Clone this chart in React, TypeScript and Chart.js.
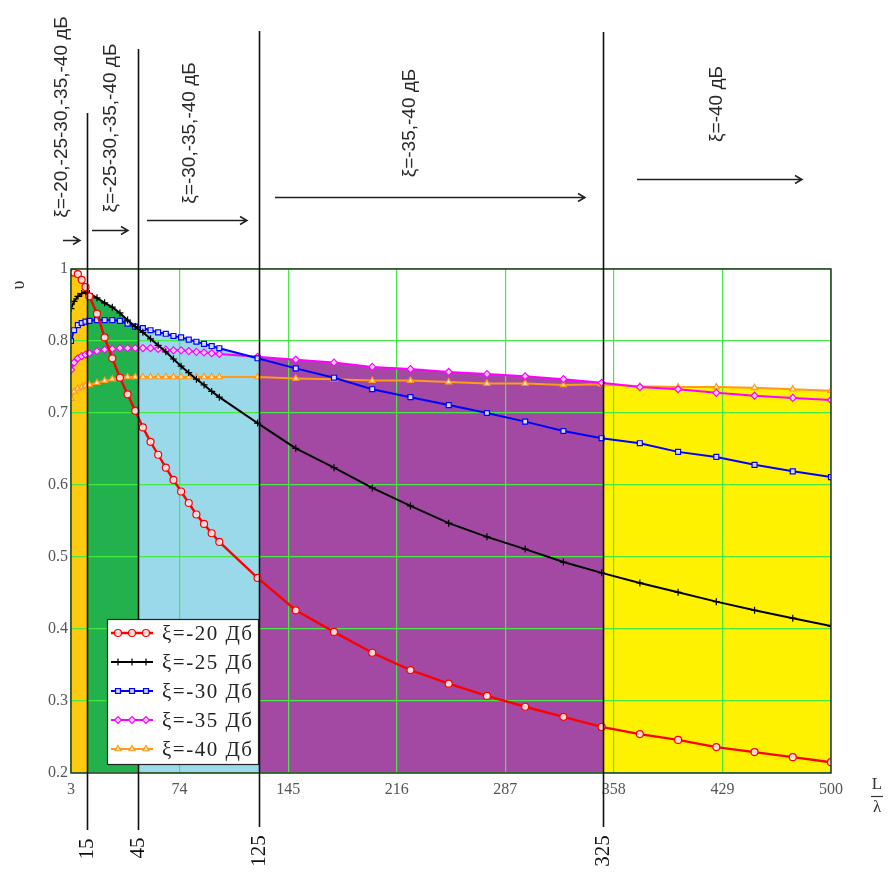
import React, { useEffect, useRef } from "react";
import { Chart, registerables } from "chart.js";
import { drawPoint } from "chart.js/helpers";

Chart.register(...registerables);

// ---------- data ----------
const lengthRatio = [3, 5, 7.5, 10, 12.5, 15, 20, 25, 30, 35, 40, 45, 50, 55, 60, 65, 70, 75, 80, 85, 90, 95, 100,
  125, 150, 175, 200, 225, 250, 275, 300, 325, 350, 375, 400, 425, 450, 475, 500];

const seriesLabels = ["ξ=-20 Дб", "ξ=-25 Дб", "ξ=-30 Дб", "ξ=-35 Дб", "ξ=-40 Дб"];

const upsilon20 = [0.897, 0.895, 0.893, 0.885, 0.875, 0.862, 0.838, 0.805, 0.776, 0.749, 0.726, 0.703, 0.680, 0.660, 0.642, 0.624, 0.607, 0.591, 0.575, 0.559, 0.546, 0.533, 0.521,
  0.471, 0.426, 0.396, 0.367, 0.343, 0.324, 0.307, 0.292, 0.278, 0.264, 0.254, 0.246, 0.236, 0.229, 0.222, 0.215];
const upsilon25 = [0.845, 0.855, 0.862, 0.866, 0.868, 0.866, 0.860, 0.853, 0.847, 0.839, 0.829, 0.820, 0.812, 0.803, 0.794, 0.785, 0.775, 0.765, 0.756, 0.747, 0.739, 0.730, 0.722,
  0.686, 0.651, 0.624, 0.596, 0.571, 0.547, 0.528, 0.511, 0.493, 0.478, 0.464, 0.451, 0.438, 0.426, 0.415, 0.404];
const upsilon30 = [0.800, 0.815, 0.822, 0.825, 0.827, 0.828, 0.829, 0.829, 0.829, 0.828, 0.824, 0.820, 0.818, 0.815, 0.812, 0.810, 0.807, 0.805, 0.802, 0.799, 0.796, 0.793, 0.790,
  0.776, 0.762, 0.749, 0.733, 0.722, 0.711, 0.700, 0.688, 0.675, 0.665, 0.658, 0.646, 0.639, 0.628, 0.619, 0.611];
const upsilon35 = [0.760, 0.770, 0.776, 0.779, 0.781, 0.783, 0.786, 0.788, 0.789, 0.790, 0.790, 0.790, 0.790, 0.790, 0.789, 0.788, 0.787, 0.787, 0.786, 0.785, 0.784, 0.783, 0.782,
  0.778, 0.774, 0.770, 0.764, 0.761, 0.757, 0.754, 0.751, 0.747, 0.742, 0.736, 0.733, 0.728, 0.724, 0.721, 0.718];
const upsilon40 = [0.720, 0.730, 0.734, 0.736, 0.738, 0.739, 0.742, 0.745, 0.747, 0.749, 0.750, 0.750, 0.750, 0.750, 0.750, 0.750, 0.750, 0.750, 0.750, 0.750, 0.750, 0.750, 0.750,
  0.750, 0.748, 0.747, 0.745, 0.745, 0.743, 0.741, 0.741, 0.739, 0.740, 0.737, 0.736, 0.736, 0.735, 0.733, 0.731];

const xTicks = [3, 74, 145, 216, 287, 358, 429, 500];
const yTicks = [0.2, 0.3, 0.4, 0.5, 0.6, 0.7, 0.8, 0.9];
const yTickLabels = ["0.2", "0.3", "0.4", "0.5", "0.6", "0.7", "0.8", "1"];

// zones (in axis units as drawn) and their labels
const zoneEdges = [3, 13.5, 47, 126, 351, 500];
const zoneEdgeLabels = ["15", "45", "125", "325"];
const zoneSeries = [0, 1, 2, 3, 4];
const zoneNotes = ["ξ=-20,-25-30,-35,-40 дБ", "ξ=-25-30,-35,-40 дБ", "ξ=-30,-35,-40 дБ", "ξ=-35,-40 дБ", "ξ=-40 дБ"];

const allSeries = [upsilon20, upsilon25, upsilon30, upsilon35, upsilon40];

// ---------- styles / layout ----------
const zoneColors = ["#FFC90E", "#22B14C", "#99D9EA", "#A349A4", "#FFF200"];
const seriesStyles = [
  { color: "#ff0000", point: "circle", bg: "rgba(255,235,235,0.9)", r: 3.5, lw: 2.4 },
  { color: "#000000", point: "cross", bg: "#000000", r: 3.5, lw: 2 },
  { color: "#0000ff", point: "rect", bg: "rgba(235,235,255,0.9)", r: 3.5, lw: 2 },
  { color: "#ff00ff", point: "rectRot", bg: "rgba(255,220,255,0.9)", r: 3.5, lw: 2 },
  { color: "#ff9a1a", point: "triangle", bg: "rgba(255,240,220,0.9)", r: 3.5, lw: 2 },
];
const gridGreen = "#45e845";
const serif = '"Liberation Serif", "DejaVu Serif", serif';
const sans = '"Liberation Sans", Arial, sans-serif';

const layout = {
  noteCenters: [[62, 117], [111, 128], [190, 133], [410, 123], [717, 104]],
  arrows: [[63, 80, 240], [92, 128, 230], [147, 247, 220], [275, 585, 197], [637, 802, 179]],
  lineTops: [113, 49, 31, 32],
  lineBottoms: [830, 830, 827, 827],
  edgeLabelY: [849, 848, 851, 851],
  legend: { left: 107, top: 619, right: 258, bottom: 764, row0: 633, rowStep: 29 },
};

const zonePlugin = {
  id: "zones",
  beforeDraw(chart: any) {
    const { ctx, chartArea: a, scales } = chart;
    const xs = scales.x, ys = scales.y;
    ctx.save();
    ctx.fillStyle = "#ffffff";
    ctx.fillRect(0, 0, chart.width, chart.height);
    ctx.restore();
    for (let z = 0; z < zoneColors.length; z++) {
      const x0 = xs.getPixelForValue(zoneEdges[z]);
      const x1 = xs.getPixelForValue(zoneEdges[z + 1]);
      const data = allSeries[zoneSeries[z]];
      ctx.save();
      ctx.beginPath();
      ctx.rect(x0, a.top, x1 - x0, a.bottom - a.top);
      ctx.clip();
      ctx.beginPath();
      ctx.moveTo(xs.getPixelForValue(lengthRatio[0]), a.bottom);
      for (let i = 0; i < lengthRatio.length; i++) {
        ctx.lineTo(xs.getPixelForValue(lengthRatio[i]), ys.getPixelForValue(data[i]));
      }
      ctx.lineTo(xs.getPixelForValue(lengthRatio[lengthRatio.length - 1]), a.bottom);
      ctx.closePath();
      ctx.fillStyle = zoneColors[z];
      ctx.fill();
      ctx.restore();
    }
  },
  afterDatasetsDraw(chart: any) {
    const { ctx, chartArea: a, scales } = chart;
    const xs = scales.x;
    // plot border
    ctx.save();
    ctx.strokeStyle = "#333";
    ctx.lineWidth = 1.5;
    ctx.strokeRect(a.left, a.top, a.right - a.left, a.bottom - a.top);
    // zone boundary lines
    ctx.strokeStyle = "#111";
    ctx.lineWidth = 1.6;
    for (let k = 0; k < zoneEdgeLabels.length; k++) {
      const px = Math.round(xs.getPixelForValue(zoneEdges[k + 1])) + 0.5;
      ctx.beginPath();
      ctx.moveTo(px, layout.lineTops[k]);
      ctx.lineTo(px, layout.lineBottoms[k]);
      ctx.stroke();
      ctx.save();
      ctx.translate(px, layout.edgeLabelY[k]);
      ctx.rotate(-Math.PI / 2);
      ctx.fillStyle = "#111";
      ctx.font = `21px ${serif}`;
      ctx.textAlign = "center";
      ctx.textBaseline = "middle";
      ctx.fillText(zoneEdgeLabels[k], 0, 0);
      ctx.restore();
    }
    // notes
    for (let k = 0; k < zoneNotes.length; k++) {
      const [cx, cy] = layout.noteCenters[k];
      ctx.save();
      ctx.translate(cx, cy);
      ctx.rotate(-Math.PI / 2);
      ctx.fillStyle = "#2a2a2a";
      ctx.font = `19px ${sans}`;
      ctx.textAlign = "center";
      ctx.textBaseline = "middle";
      ctx.fillText(zoneNotes[k], 0, 0);
      ctx.restore();
      const [ax0, ax1, ay] = layout.arrows[k];
      ctx.beginPath();
      ctx.lineWidth = 1.5;
      ctx.strokeStyle = "#222";
      ctx.moveTo(ax0, ay + 0.5);
      ctx.lineTo(ax1, ay + 0.5);
      ctx.moveTo(ax1 - 7, ay - 3.5);
      ctx.lineTo(ax1, ay + 0.5);
      ctx.lineTo(ax1 - 7, ay + 4.5);
      ctx.stroke();
    }
    // axis titles
    ctx.save();
    ctx.translate(19, 285);
    ctx.rotate(-Math.PI / 2);
    ctx.font = `18px ${serif}`;
    ctx.fillStyle = "#333";
    ctx.textAlign = "center";
    ctx.textBaseline = "middle";
    ctx.fillText("υ", 0, 0);
    ctx.restore();
    ctx.font = `17px ${serif}`;
    ctx.fillStyle = "#333";
    ctx.strokeStyle = "#333";
    ctx.textAlign = "center";
    ctx.textBaseline = "middle";
    ctx.fillText("L", 877, 785);
    ctx.fillText("λ", 877, 808);
    ctx.beginPath();
    ctx.lineWidth = 1.2;
    ctx.moveTo(871, 796.5);
    ctx.lineTo(883, 796.5);
    ctx.stroke();
    // legend
    const L = layout.legend;
    ctx.fillStyle = "#ffffff";
    ctx.fillRect(L.left, L.top, L.right - L.left, L.bottom - L.top);
    ctx.strokeStyle = "#222";
    ctx.lineWidth = 1.2;
    ctx.strokeRect(L.left + 0.5, L.top + 0.5, L.right - L.left, L.bottom - L.top);
    for (let i = 0; i < seriesLabels.length; i++) {
      const st = seriesStyles[i];
      const ry = L.row0 + i * L.rowStep;
      ctx.beginPath();
      ctx.strokeStyle = st.color;
      ctx.lineWidth = st.lw;
      ctx.moveTo(L.left + 4, ry);
      ctx.lineTo(L.left + 46, ry);
      ctx.stroke();
      for (let m = 0; m < 3; m++) {
        ctx.fillStyle = st.bg;
        ctx.strokeStyle = st.color;
        ctx.lineWidth = 1.2;
        drawPoint(ctx, { pointStyle: st.point as any, rotation: 0, radius: st.r, borderWidth: 1.2 }, L.left + 11 + m * 14, ry);
      }
      ctx.fillStyle = "#222";
      ctx.font = `21px ${serif}`;
      ctx.textAlign = "left";
      ctx.textBaseline = "middle";
      try { (ctx as any).letterSpacing = "1.5px"; } catch (e) { /* ignore */ }
      ctx.fillText(seriesLabels[i], L.left + 55, ry + 1);
      try { (ctx as any).letterSpacing = "0px"; } catch (e) { /* ignore */ }
    }
    ctx.restore();
  },
};

export default function App() {
  const ref = useRef<HTMLCanvasElement | null>(null);
  useEffect(() => {
    document.body.style.margin = "0";
    const canvas = ref.current;
    if (!canvas) return;
    const datasets = allSeries.map((vals, s) => ({
      label: seriesLabels[s],
      data: lengthRatio.map((x, i) => ({ x, y: vals[i] })),
      borderColor: seriesStyles[s].color,
      backgroundColor: seriesStyles[s].bg,
      borderWidth: seriesStyles[s].lw,
      pointStyle: seriesStyles[s].point,
      pointRadius: seriesStyles[s].r,
      pointBorderWidth: 1.2,
      pointBorderColor: seriesStyles[s].color,
      pointBackgroundColor: seriesStyles[s].bg,
      tension: 0,
      fill: false,
    }));
    const chart = new Chart(canvas, {
      type: "line",
      data: { datasets },
      options: {
        animation: false,
        responsive: false,
        maintainAspectRatio: false,
        devicePixelRatio: 1,
        layout: { padding: { top: 269, right: 61, left: 0, bottom: 0 } },
        plugins: { legend: { display: false }, tooltip: { enabled: false }, title: { display: false } },
        scales: {
          x: {
            type: "linear",
            min: 3,
            max: 500,
            afterBuildTicks: (s: any) => { s.ticks = xTicks.map((v) => ({ value: v })); },
            afterFit: (s: any) => { s.height = 100; },
            ticks: {
              callback: (v: any) => String(v),
              color: "#555",
              font: { family: serif, size: 16 },
              padding: 7,
              maxRotation: 0,
              autoSkip: false,
            },
            grid: { color: gridGreen, lineWidth: 1.2, drawTicks: false },
            border: { display: false },
          },
          y: {
            type: "linear",
            min: 0.2,
            max: 0.9,
            afterBuildTicks: (s: any) => { s.ticks = yTicks.map((v) => ({ value: v })); },
            afterFit: (s: any) => { s.width = 71; },
            ticks: {
              callback: (_v: any, i: number) => yTickLabels[i],
              color: "#555",
              font: { family: serif, size: 16 },
              padding: 3,
              autoSkip: false,
            },
            grid: { color: gridGreen, lineWidth: 1.2, drawTicks: false },
            border: { display: false },
          },
        },
      },
      plugins: [zonePlugin],
    });
    return () => chart.destroy();
  }, []);
  return (
    <div style={{ width: 892, height: 873 }}>
      <canvas ref={ref} width={892} height={873} style={{ display: "block", width: 892, height: 873 }} />
    </div>
  );
}
